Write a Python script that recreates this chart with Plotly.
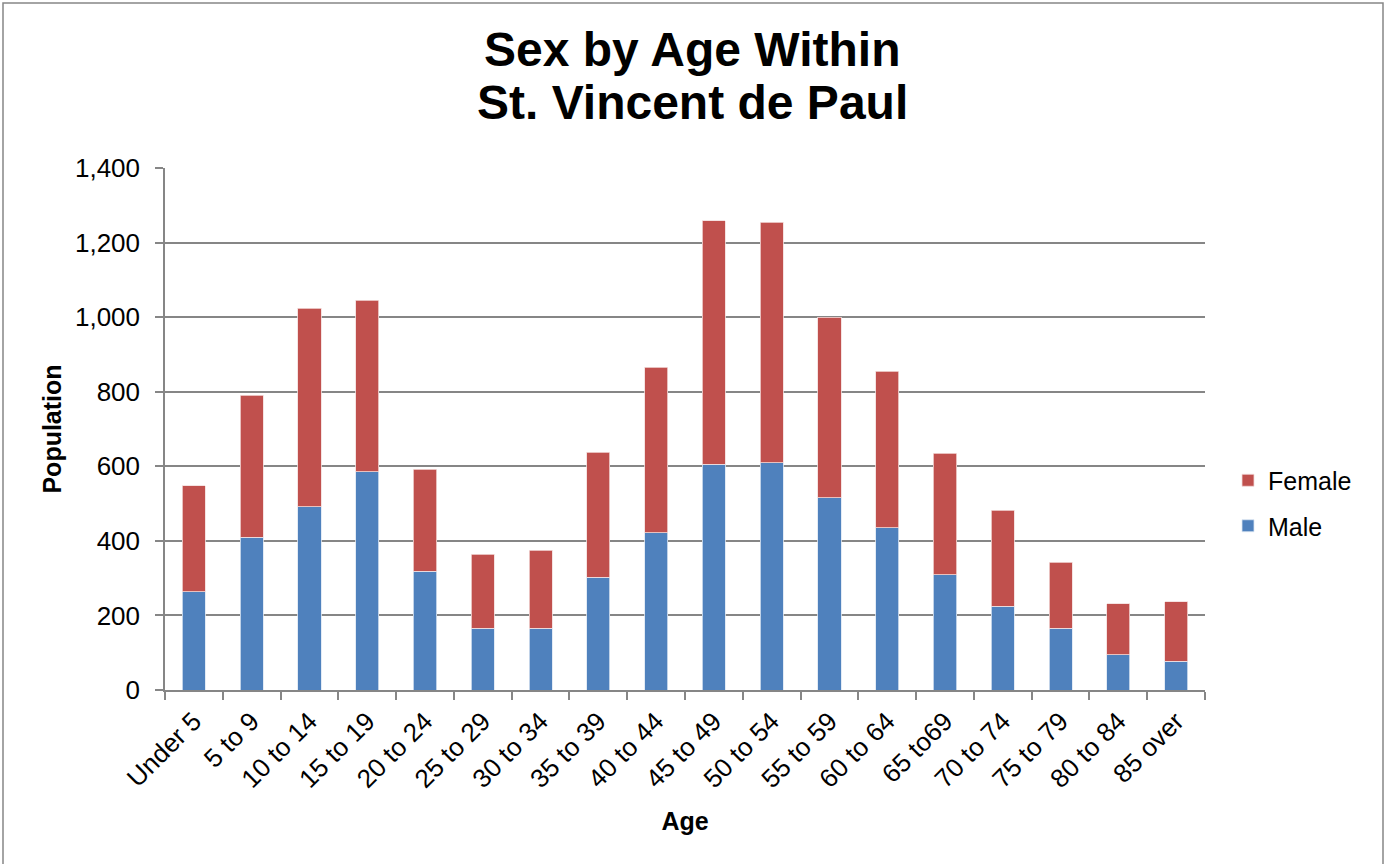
import plotly.graph_objects as go

categories = ["Under 5", "5 to 9", "10 to 14", "15 to 19", "20 to 24", "25 to 29",
              "30 to 34", "35 to 39", "40 to 44", "45 to 49", "50 to 54", "55 to 59",
              "60 to 64", "65 to69", "70 to 74", "75 to 79", "80 to 84", "85 over"]
male = [264, 410, 491, 585, 318, 165, 165, 302, 422, 605, 609, 515, 435, 309, 224, 165, 95, 77]
female = [284, 380, 533, 460, 274, 199, 210, 335, 444, 654, 646, 485, 420, 326, 258, 177, 136, 160]
y_ticks = [0, 200, 400, 600, 800, 1000, 1200, 1400]
title_lines = ["Sex by Age Within", "St. Vincent de Paul"]

FONT = "Liberation Sans, Arial, sans-serif"
GRID = "#868686"
W, H = 1385, 864
L, R, T, B = 165, 180, 168, 174
PW, PH = W - L - R, H - T - B


def px_x(x):
    return (x - L) / PW


def px_y(y):
    return (H - B - y) / PH


fig = go.Figure()
fig.add_trace(go.Bar(x=categories, y=male, name="Male", legendgroup="m", legendrank=2,
                     marker=dict(color="#4F81BD", line=dict(color="#DCE6F2", width=0.8))))
fig.add_trace(go.Bar(x=categories, y=female, name="Female", legendgroup="f", legendrank=1,
                     marker=dict(color="#C0504D", line=dict(color="#F2DCDB", width=0.8))))

fig.update_layout(
    width=W, height=H,
    barmode="stack", bargap=0.6,
    plot_bgcolor="white", paper_bgcolor="white",
    font=dict(family=FONT, size=26, color="black"),
    margin=dict(l=L, r=R, t=T, b=B, autoexpand=False),
    legend=dict(x=px_x(1228), y=px_y(503), xanchor="left", yanchor="middle",
                traceorder="grouped", tracegroupgap=10,
                font=dict(size=25), itemwidth=30),
    xaxis=dict(title=dict(text="<b>Age</b>", font=dict(size=25), standoff=20),
               tickangle=-45, showline=True, linecolor=GRID, linewidth=1.5,
               ticks="outside", tickson="boundaries", ticklen=8, tickcolor=GRID,
               tickwidth=1.5, ticklabelstandoff=4,
               showgrid=False, tickfont=dict(size=26)),
    yaxis=dict(title=dict(text="<b>Population</b>", font=dict(size=25), standoff=6),
               range=[0, 1400], tickvals=y_ticks, tickformat=",d",
               showline=True, linecolor=GRID, linewidth=1.5,
               ticks="outside", ticklen=8, tickcolor=GRID, tickwidth=1.5,
               ticklabelstandoff=10,
               showgrid=True, gridcolor=GRID, gridwidth=1.5, zeroline=False,
               tickfont=dict(size=26)),
)

# two-line chart title
for txt, yc in zip(title_lines, [49, 102]):
    fig.add_annotation(text="<b>%s</b>" % txt, xref="paper", yref="paper",
                       x=px_x(W / 2), y=px_y(yc), xanchor="center", yanchor="middle",
                       showarrow=False, font=dict(family=FONT, size=48, color="black"))

# outer chart border
fig.add_shape(type="rect", xref="paper", yref="paper",
              x0=px_x(3), x1=px_x(1383), y0=px_y(866), y1=px_y(3),
              line=dict(color=GRID, width=1.5), fillcolor="rgba(0,0,0,0)", layer="below")

fig.write_html("out.html", config={"displayModeBar": False},
               post_script="document.body.style.margin='0';")
